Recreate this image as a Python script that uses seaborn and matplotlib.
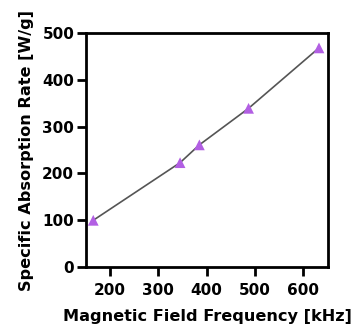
import numpy as np
import pandas as pd
import seaborn as sns
import matplotlib.pyplot as plt

freq = [165, 345, 385, 487, 633]
sar = [100, 223, 261, 339, 468]

df = pd.DataFrame({'freq': freq, 'sar': sar})

sns.set_style('ticks')
plt.rcParams['font.family'] = ['DejaVu Sans']
plt.rcParams['font.weight'] = 'bold'
plt.rcParams['text.color'] = 'black'
plt.rcParams['axes.labelcolor'] = 'black'
plt.rcParams['xtick.color'] = 'black'
plt.rcParams['ytick.color'] = 'black'

fig = plt.figure(figsize=(3.54, 3.29), dpi=100)
ax = fig.add_axes([0.243, 0.188, 0.684, 0.712])

sns.lineplot(data=df, x='freq', y='sar', color='#555555', linewidth=1.2, ax=ax)
sns.scatterplot(data=df, x='freq', y='sar', marker='^', s=60, color='#b25fe3',
                edgecolor='none', zorder=3, ax=ax)

ax.set_xlim(150, 652)
ax.set_ylim(0, 500)
ax.set_xticks([200, 300, 400, 500, 600])
ax.set_yticks([0, 100, 200, 300, 400, 500])
for s in ax.spines.values():
    s.set_linewidth(2)
    s.set_color('black')
ax.tick_params(width=2, length=6.5, labelsize=11, direction='out')
ax.tick_params(axis='x', pad=5)
ax.tick_params(axis='y', pad=2)
ax.set_xlabel('Magnetic Field Frequency [kHz]', fontsize=11.6, fontweight='bold', labelpad=8)
ax.set_ylabel('Specific Absorption Rate [W/g]', fontsize=11.6, fontweight='bold', labelpad=6)

fig.savefig('out.png', dpi=100)
